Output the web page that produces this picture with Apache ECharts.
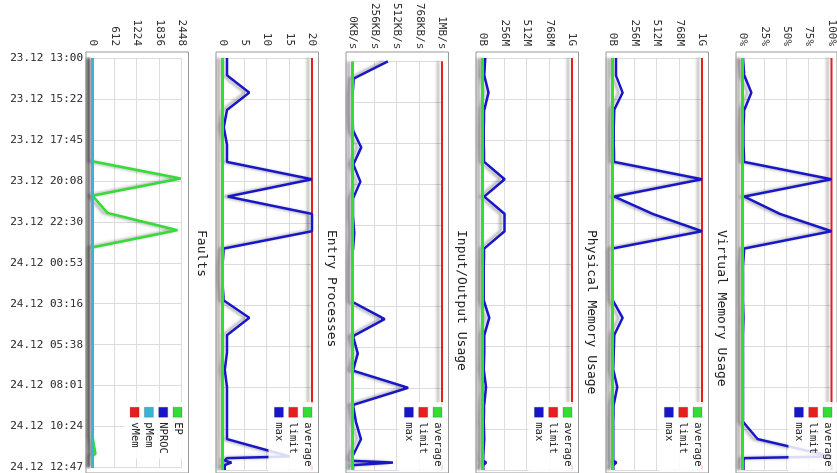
<!DOCTYPE html>
<html>
<head>
<meta charset="utf-8">
<script src="https://cdn.jsdelivr.net/npm/echarts@6.0.0/dist/echarts.min.js"></script>
<style>
  html, body { margin: 0; padding: 0; background: #fff; overflow: hidden; width: 837px; height: 473px; }
  /* the report is drawn upright (time running left to right) and turned a quarter clockwise */
  #chart { position: absolute; left: 0; top: 0; width: 473px; height: 837px;
           transform-origin: 0 0; transform: translate(837px, 0) rotate(90deg); }
</style>
</head>
<body>
<div id="chart"></div>
<script>
// minutes after 23.12 13:00 (hourly, then a few closer samples in the last hour)
const times = [0, 60, 120, 180, 240, 300, 360, 420, 480, 540, 600, 660, 720, 780, 840, 900,
               960, 1020, 1080, 1140, 1200, 1260, 1320, 1380, 1386, 1395, 1401, 1410, 1427];
const timeLabels = ['23.12 13:00', '23.12 15:22', '23.12 17:45', '23.12 20:08', '23.12 22:30', '24.12 00:53',
                    '24.12 03:16', '24.12 05:38', '24.12 08:01', '24.12 10:24', '24.12 12:47'];
const timeStep = 142.7;
const timeEnd = 1427;

const cpuTicks = ['0%', '25%', '50%', '75%', '100%'];
const memTicks = ['0B', '256M', '512M', '768M', '1G'];
const ioTicks = ['0KB/s', '256KB/s', '512KB/s', '768KB/s', '1MB/s'];
const epTicks = ['0', '5', '10', '15', '20'];
const faultTicks = ['0', '612', '1224', '1836', '2448'];

// CPU, %
const cpuAvg = [0, 0, 0, 0, 0, 0, 0, 0, 0, 0, 0, 0, 0, 0, 0, 0, 0, 0, 0, 0, 0, 0, 0, 0, 0, 0, 0, 0, 0];
const cpuLimit = [100, 100, 100, 100, 100, 100, 100, 100, 100, 100, 100, 100, 100, 100, 100, 100, 100, 100, 100, 100, 100,
                  null, null, null, null, null, null, 100, 100];
const cpuMax = [0.5, 2, 10, 2, 1, 1, 2, 100, 2, 42, 100, 2, 0.5, 0.5, 0.5, 1, 0.5, 0.5, 0.5, 0.5, 0.5, 0.5, 17, 100, 2, 1, 1, 1, 1];

// virtual memory, MB
const vmemAvg = [0, 0, 0, 0, 0, 0, 0, 0, 0, 0, 0, 0, 0, 0, 0, 0, 0, 0, 0, 0, 0, 0, 0, 0, 0, 0, 0, 0, 0];
const vmemLimit = [1024, 1024, 1024, 1024, 1024, 1024, 1024, 1024, 1024, 1024, 1024, 1024, 1024, 1024, 1024, 1024, 1024, 1024, 1024, 1024, 1024,
                   null, null, null, null, null, null, 1024, 1024];
const vmemMax = [39, 39, 116, 20, 15, 15, 20, 1024, 20, 460, 1024, 0, 0, 0, 5, 116, 20, 15, 10, 54, 15, 10, 10, 10, 10, 10, 45, 10, 10];

// physical memory, MB
const pmemAvg = [0, 0, 0, 0, 0, 0, 0, 0, 0, 0, 0, 0, 0, 0, 0, 0, 0, 0, 0, 0, 0, 0, 0, 0, 0, 0, 0, 0, 0];
const pmemLimit = [1024, 1024, 1024, 1024, 1024, 1024, 1024, 1024, 1024, 1024, 1024, 1024, 1024, 1024, 1024, 1024, 1024, 1024, 1024, 1024, 1024,
                   null, null, null, null, null, null, 1024, 1024];
const pmemMax = [31, 20, 69, 20, 15, 15, 20, 253, 20, 253, 253, 20, 15, 15, 15, 77, 20, 20, 15, 40, 20, 15, 20, 10, 10, 10, 40, 10, 10];

// input/output, KB/s
const ioAvg = [0, 0, 0, 0, 0, 0, 0, 0, 0, 0, 0, 0, 0, 0, 0, 0, 0, 0, 0, 0, 0, 0, 0, 0, 0, 0, 0, 0, 0];
const ioLimit = [1024, 1024, 1024, 1024, 1024, 1024, 1024, 1024, 1024, 1024, 1024, 1024, 1024, 1024, 1024, 1024, 1024, 1024, 1024, 1024, 1024,
                 null, null, null, null, null, null, 1024, 1024];
const ioMax = [405, 15, 0, 0, 5, 100, 10, 90, 5, 5, 20, 5, 0, 0, 0, 367, 5, 60, 5, 637, 5, 40, 97, 0, 0, 0, 463, 5, 5];

// entry processes
const epAvg = [0, 0, 0, 0, 0, 0, 0, 0, 0, 0, 0, 0, 0, 0, 0, 0, 0, 0, 0, 0, 0, 0, 0, 0, 0, 0, 0, 0, 0];
const epLimit = [20, 20, 20, 20, 20, 20, 20, 20, 20, 20, 20, 20, 20, 20, 20, 20, 20, 20, 20, 20, 20,
                 null, null, null, null, null, null, 20, 20];
const epMax = [1, 1, 6, 1, 0.3, 1, 1, 20, 1.2, 20, 20, 0.3, 0, 0, 0.3, 6, 1, 1, 0.5, 1, 1, 1, 1, 15, 1, 0.5, 2, 0.5, 0.5];

// faults
const faultEP = [0, 0, 0, 0, 0, 0, 0, 2413, 0, 412, 2322, 0, 0, 0, 0, 0, 0, 0, 0, 0, 0, 0, 0, 80, 0, 0, 0, 0, 0];
const faultNproc = [0, 0, 0, 0, 0, 0, 0, 0, 0, 0, 0, 0, 0, 0, 0, 0, 0, 0, 0, 0, 0, 0, 0, 0, 0, 0, 0, 0, 0];
const faultPmem = [0, 0, 0, 0, 0, 0, 0, 0, 0, 0, 0, 0, 0, 0, 0, 0, 0, 0, 0, 0, 0, 0, 0, 0, 0, 0, 0, 0, 0];
const faultVmem = [0, 0, 0, 0, 0, 0, 0, 0, 0, 0, 0, 0, 0, 0, 0, 0, 0, 0, 0, 0, 0, 0, 0, 0, 0, 0, 0, 0, 0];

const GREEN = '#33dd33', RED = '#e81e1e', BLUE = '#1717c8', CYAN = '#3ab4d6';
const FONT = 'DejaVu Sans Mono';

// upright order: top panel first (it ends up on the right after turning)
const panels = [
  { title: null, top: 5, max: 100, ticks: cpuTicks, legend: ['average', 'limit', 'max'],
    lines: [['limit', cpuLimit, RED, 2], ['max', cpuMax, BLUE, 2.5], ['average', cpuAvg, GREEN, 3]] },
  { title: 'Virtual Memory Usage', top: 135, max: 1024, ticks: memTicks, legend: ['average', 'limit', 'max'],
    lines: [['limit', vmemLimit, RED, 2], ['max', vmemMax, BLUE, 2.5], ['average', vmemAvg, GREEN, 3]] },
  { title: 'Physical Memory Usage', top: 265, max: 1024, ticks: memTicks, legend: ['average', 'limit', 'max'],
    lines: [['limit', pmemLimit, RED, 2], ['max', pmemMax, BLUE, 2.5], ['average', pmemAvg, GREEN, 3]] },
  { title: 'Input/Output Usage', top: 395, max: 1024, ticks: ioTicks, legend: ['average', 'limit', 'max'],
    lines: [['limit', ioLimit, RED, 2], ['max', ioMax, BLUE, 2.5], ['average', ioAvg, GREEN, 3]] },
  { title: 'Entry Processes', top: 525, max: 20, ticks: epTicks, legend: ['average', 'limit', 'max'],
    lines: [['limit', epLimit, RED, 2], ['max', epMax, BLUE, 2.5], ['average', epAvg, GREEN, 3]] },
  { title: 'Faults', top: 655, max: 2448, ticks: faultTicks, legend: ['EP', 'NPROC', 'pMem', 'vMem'],
    lines: [['vMem', faultVmem, RED, 2], ['NPROC', faultNproc, BLUE, 2], ['EP', faultEP, GREEN, 2.5], ['pMem', faultPmem, CYAN, 3]] }
];

const option = { animation: false, grid: [], xAxis: [], yAxis: [], series: [], legend: [], title: [] };

panels.forEach((p, j) => {
  const g = j * 2;
  const isLast = j === panels.length - 1;

  // data area
  option.grid.push({ left: 58, top: p.top, width: 412, height: 89.5 });
  // frame drawn a little outside the data area
  option.grid.push({ left: 52, top: p.top - 6.5, width: 430, height: 102.5, show: true, borderColor: '#999', borderWidth: 1 });

  option.xAxis.push({
    type: 'value', gridIndex: g, min: 0, max: timeEnd, interval: timeStep,
    axisLine: { show: false }, axisTick: { show: false },
    splitLine: { show: true, lineStyle: { color: '#dcdcdc', width: 1 } },
    axisLabel: {
      show: isLast, rotate: 90, margin: 9.5, showMinLabel: true, showMaxLabel: true,
      fontFamily: FONT, fontSize: 11, color: '#333',
      formatter: v => timeLabels[Math.round(v / timeStep)]
    }
  });
  option.yAxis.push({
    type: 'value', gridIndex: g, min: 0, max: p.max, interval: p.max / 4,
    axisLine: { show: false }, axisTick: { show: false },
    splitLine: { show: true, lineStyle: { color: '#dcdcdc', width: 1 } },
    axisLabel: {
      margin: 12, showMinLabel: true, showMaxLabel: true,
      fontFamily: FONT, fontSize: 11, color: '#333',
      formatter: v => p.ticks[Math.round(v / (p.max / 4))]
    }
  });
  option.xAxis.push({ type: 'value', gridIndex: g + 1, show: false });
  option.yAxis.push({ type: 'value', gridIndex: g + 1, show: false });

  p.lines.forEach(([name, vals, color, width]) => {
    option.series.push({
      type: 'line', name: name, xAxisIndex: g, yAxisIndex: g,
      data: times.map((t, i) => [t, vals[i]]),
      symbol: 'none', clip: false, connectNulls: false, silent: true,
      color: color, itemStyle: { color: color },
      lineStyle: { color: color, width: width, shadowColor: 'rgba(0,0,0,0.35)', shadowBlur: 3, shadowOffsetY: 4 },
      emphasis: { disabled: true }
    });
  });

  option.legend.push({
    orient: 'vertical', left: 402, top: p.top - 6, padding: 5,
    itemWidth: 10, itemHeight: 9, itemGap: 3.3, icon: 'rect', selectedMode: false,
    backgroundColor: 'rgba(255,255,255,0.85)',
    itemStyle: { borderColor: 'rgba(0,0,0,0.35)', borderWidth: 0.5 },
    textStyle: { fontFamily: FONT, fontSize: 10.5, color: '#222', lineHeight: 10 },
    data: p.legend
  });

  if (p.title) {
    option.title.push({
      text: p.title, left: 230, top: p.top - 26, padding: 0,
      textStyle: { fontFamily: FONT, fontSize: 13, fontWeight: 'normal', color: '#222', lineHeight: 14 }
    });
  }
});

const chart = echarts.init(document.getElementById('chart'), null, { devicePixelRatio: 1 });
chart.setOption(option);
</script>
</body>
</html>
